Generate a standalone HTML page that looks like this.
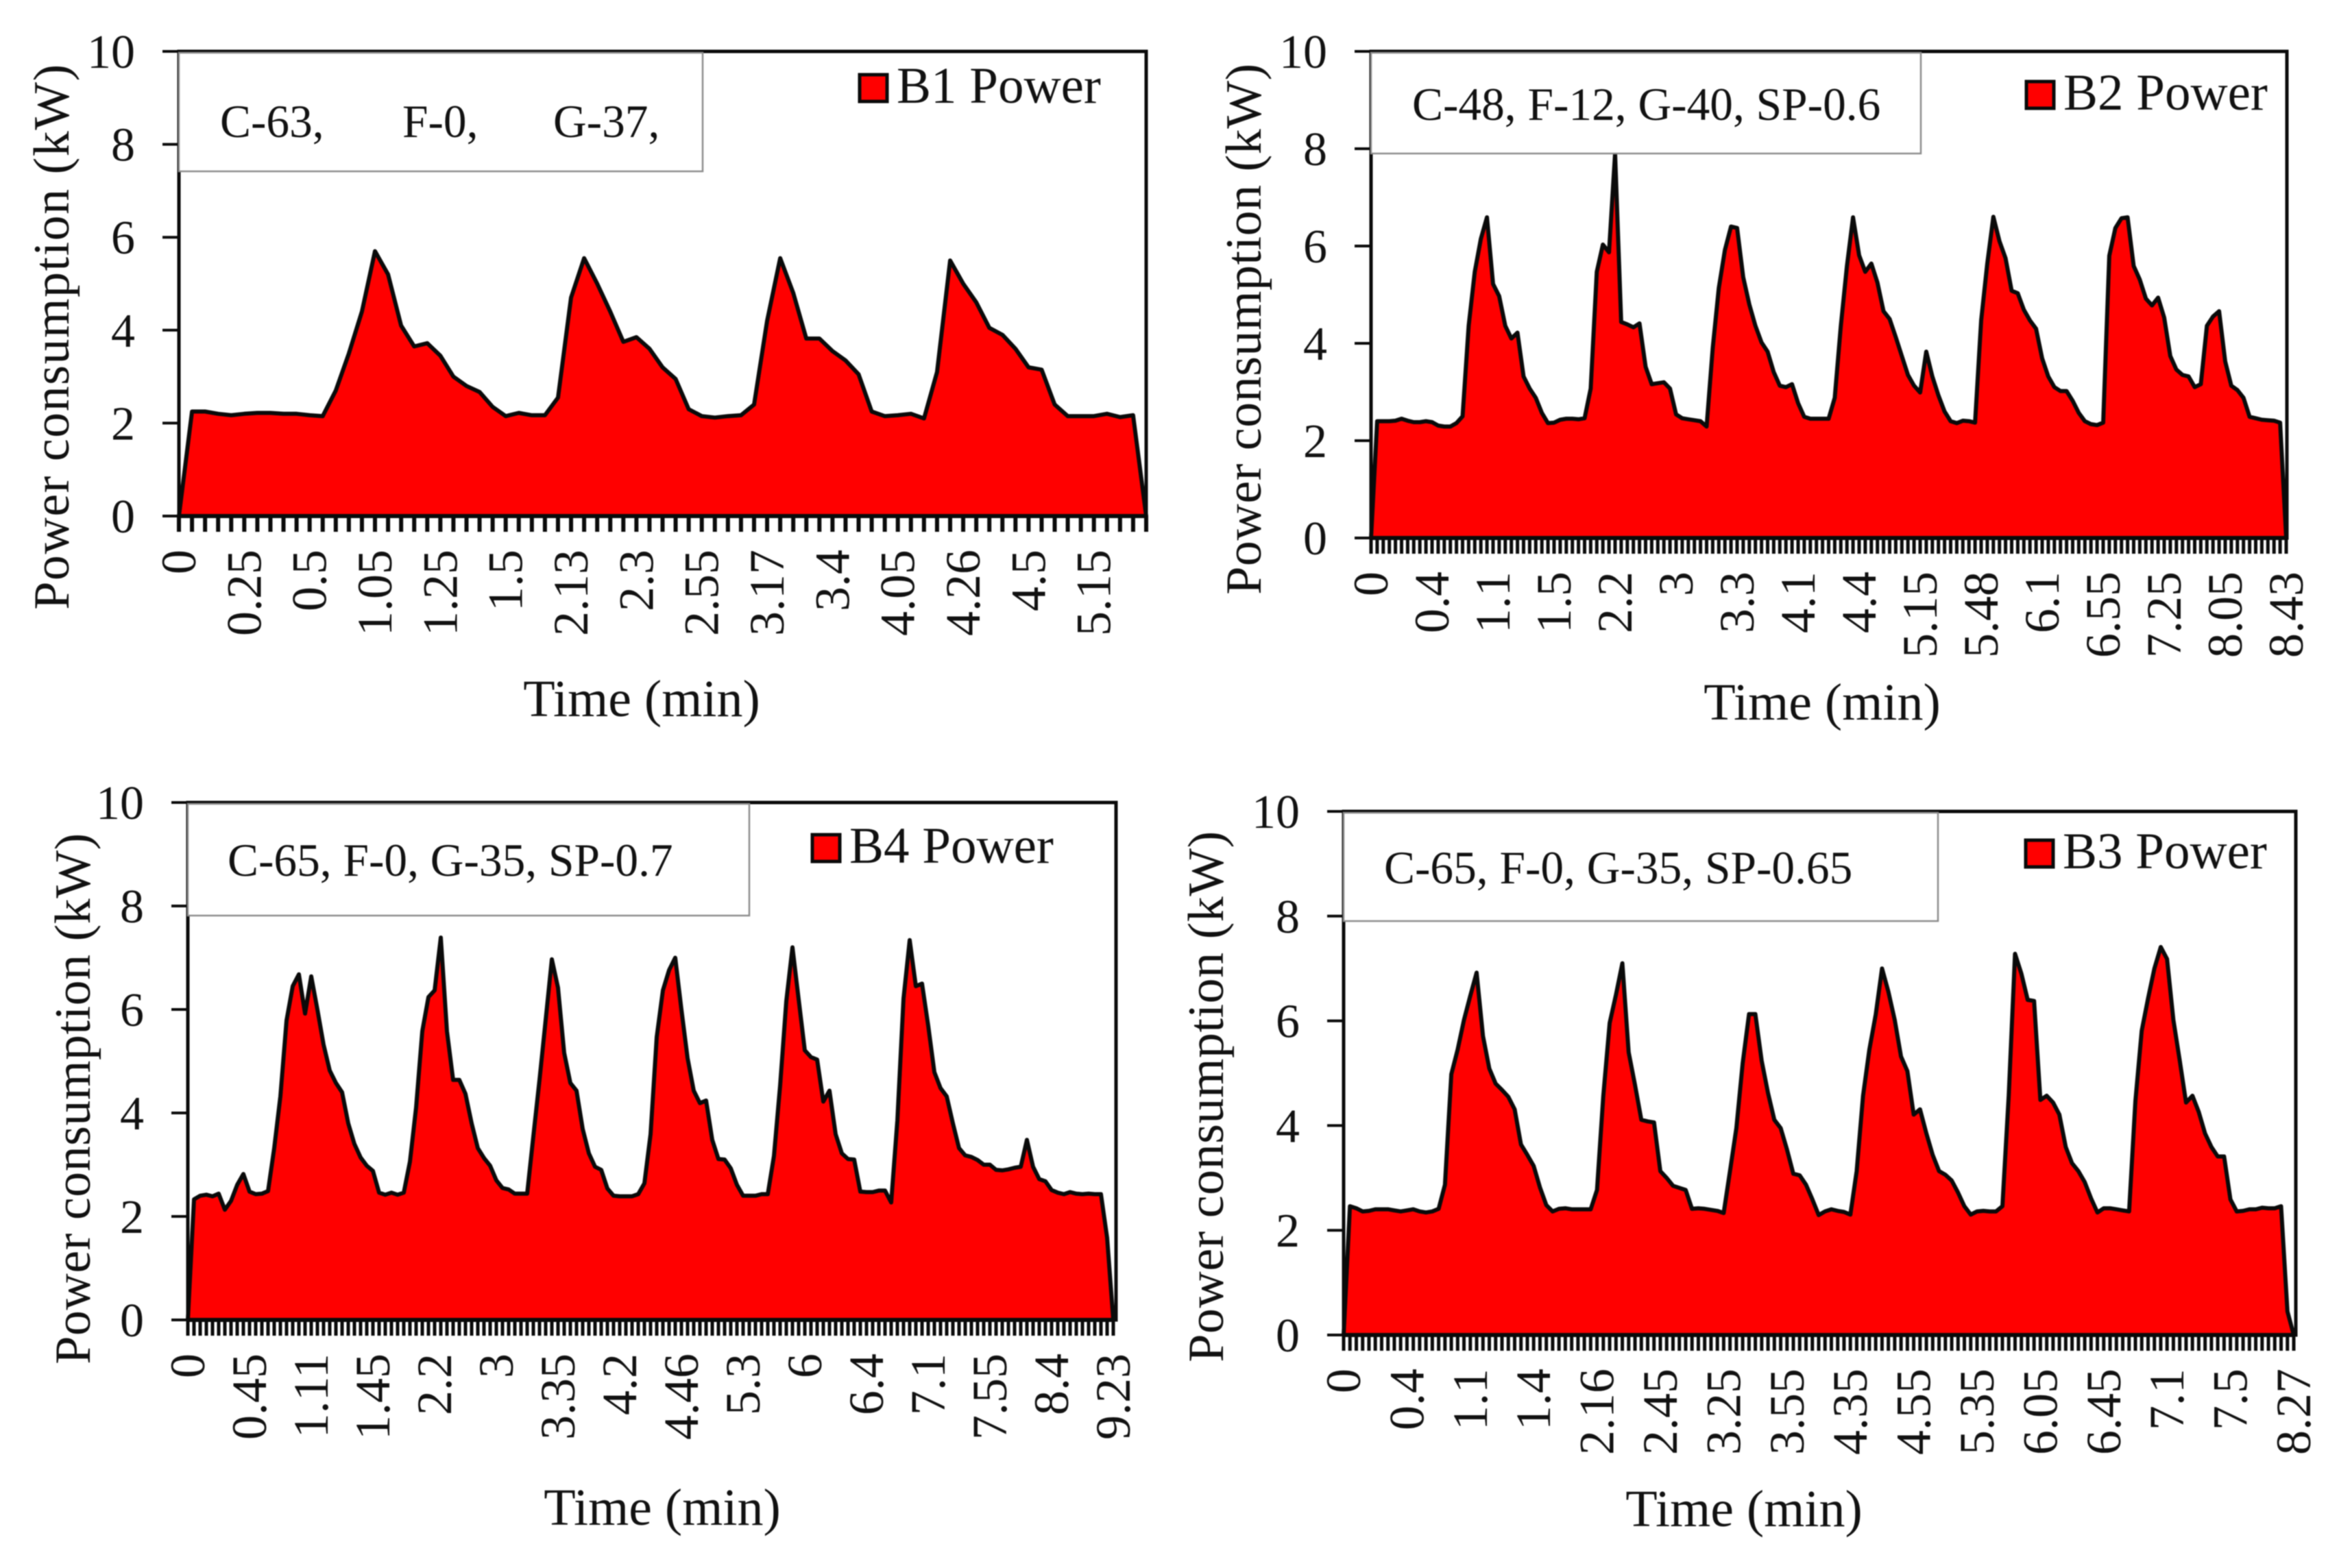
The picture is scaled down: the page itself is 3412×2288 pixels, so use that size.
<!DOCTYPE html>
<html lang="en">
<head>
<meta charset="utf-8">
<title>Power consumption B1-B4</title>
<style>
html,body{margin:0;padding:0;background:#fff;}
svg{display:block;filter:blur(0.9px);}
text{font-family:"Liberation Serif",serif;fill:#111;}
</style>
</head>
<body>
<svg id="figure" xmlns="http://www.w3.org/2000/svg" width="3412" height="2288" viewBox="0 0 3412 2288"></svg>
<script>
const yTicks = [0, 2, 4, 6, 8, 10];

const b1Labels = ["0","0.25","0.5","1.05","1.25","1.5","2.13","2.3","2.55","3.17","3.4","4.05","4.26","4.5","5.15"];
const b2Labels = ["0","0.4","1.1","1.5","2.2","3","3.3","4.1","4.4","5.15","5.48","6.1","6.55","7.25","8.05","8.43"];
const b4Labels = ["0","0.45","1.11","1.45","2.2","3","3.35","4.2","4.46","5.3","6","6.4","7.1","7.55","8.4","9.23"];
const b3Labels = ["0","0.4","1.1","1.4","2.16","2.45","3.25","3.55","4.35","4.55","5.35","6.05","6.45","7.1","7.5","8.27"];

const b1Values = [0,2.25,2.25,2.2,2.17,2.2,2.22,2.22,2.2,2.2,2.17,2.15,2.7,3.5,4.4,5.7,5.2,4.1,3.65,3.72,3.45,3.0,2.8,2.67,2.35,2.15,2.22,2.17,2.17,2.55,4.7,5.55,5.0,4.4,3.75,3.85,3.6,3.2,2.95,2.3,2.15,2.12,2.15,2.17,2.4,4.2,5.55,4.8,3.82,3.82,3.55,3.35,3.05,2.25,2.15,2.17,2.2,2.1,3.1,5.5,5.0,4.6,4.05,3.9,3.6,3.2,3.15,2.4,2.15,2.15,2.15,2.2,2.13,2.17,0];

const b2Values = [0,2.4,2.4,2.4,2.41,2.45,2.41,2.38,2.38,2.4,2.38,2.31,2.29,2.29,2.36,2.5,4.36,5.47,6.15,6.59,5.22,4.97,4.36,4.1,4.22,3.32,3.07,2.88,2.57,2.36,2.37,2.43,2.45,2.45,2.44,2.46,3.07,5.47,6.03,5.87,7.9,4.44,4.39,4.33,4.41,3.52,3.16,3.18,3.2,3.07,2.54,2.46,2.44,2.42,2.4,2.29,3.9,5.14,5.92,6.4,6.37,5.36,4.8,4.36,4.02,3.83,3.41,3.13,3.1,3.16,2.77,2.49,2.45,2.45,2.45,2.45,2.88,4.36,5.59,6.59,5.81,5.47,5.64,5.25,4.66,4.5,4.13,3.74,3.35,3.13,2.99,3.83,3.32,2.93,2.6,2.4,2.36,2.41,2.4,2.37,4.47,5.64,6.6,6.1,5.75,5.08,5.03,4.69,4.47,4.3,3.69,3.32,3.1,3.02,3.02,2.82,2.57,2.4,2.34,2.32,2.37,5.8,6.37,6.57,6.59,5.59,5.31,4.92,4.78,4.94,4.53,3.74,3.46,3.35,3.32,3.1,3.16,4.36,4.55,4.66,3.63,3.13,3.04,2.88,2.49,2.46,2.43,2.42,2.41,2.37,0];

const b4Values = [0,2.33,2.4,2.42,2.39,2.44,2.13,2.3,2.61,2.82,2.48,2.43,2.44,2.49,3.32,4.32,5.79,6.45,6.68,5.92,6.64,6.0,5.32,4.82,4.58,4.4,3.8,3.4,3.14,2.98,2.88,2.46,2.42,2.46,2.42,2.46,3.06,4.11,5.58,6.24,6.37,7.39,5.58,4.64,4.64,4.37,3.8,3.32,3.13,2.98,2.7,2.55,2.52,2.44,2.44,2.44,3.55,4.64,5.8,6.97,6.42,5.16,4.58,4.43,3.69,3.22,2.96,2.9,2.54,2.4,2.39,2.39,2.39,2.43,2.64,3.59,5.47,6.37,6.76,7.0,6.0,5.06,4.43,4.19,4.24,3.48,3.11,3.1,2.93,2.61,2.4,2.4,2.4,2.43,2.43,3.17,4.53,6.16,7.2,6.2,5.21,5.08,5.03,4.22,4.43,3.59,3.22,3.11,3.1,2.48,2.47,2.47,2.5,2.5,2.27,3.85,6.21,7.34,6.45,6.5,5.69,4.79,4.48,4.32,3.8,3.32,3.18,3.15,3.09,3.0,3.0,2.9,2.89,2.91,2.94,2.96,3.48,2.96,2.72,2.68,2.51,2.46,2.43,2.47,2.44,2.43,2.44,2.43,2.43,1.59,0];

const b3Values = [0,2.46,2.42,2.36,2.37,2.4,2.4,2.4,2.38,2.36,2.38,2.4,2.36,2.34,2.36,2.41,2.87,4.98,5.45,6.02,6.48,6.92,5.71,5.09,4.8,4.68,4.55,4.31,3.64,3.44,3.23,2.82,2.48,2.36,2.41,2.42,2.4,2.4,2.4,2.4,2.77,4.57,5.96,6.5,7.1,5.4,4.78,4.11,4.08,4.06,3.13,3.0,2.85,2.81,2.77,2.41,2.42,2.41,2.39,2.37,2.33,3.13,3.95,5.19,6.13,6.13,5.24,4.62,4.11,3.95,3.54,3.08,3.05,2.87,2.59,2.29,2.36,2.4,2.37,2.35,2.3,3.13,4.57,5.45,6.12,7.0,6.56,6.02,5.32,5.04,4.21,4.31,3.85,3.44,3.13,3.06,2.95,2.72,2.46,2.3,2.36,2.37,2.36,2.36,2.46,4.57,7.28,6.9,6.4,6.38,4.49,4.57,4.44,4.21,3.59,3.28,3.13,2.92,2.61,2.34,2.42,2.42,2.4,2.38,2.36,4.47,5.81,6.43,7.0,7.41,7.18,6.02,5.24,4.44,4.57,4.26,3.85,3.59,3.41,3.41,2.59,2.36,2.37,2.4,2.4,2.43,2.42,2.42,2.46,0.45,0];

const svg = document.getElementById('figure');
const NS = 'http://www.w3.org/2000/svg';

function make(parent, tag, attrs, content) {
  const el = document.createElementNS(NS, tag);
  for (const k in attrs) el.setAttribute(k, attrs[k]);
  if (content !== undefined) el.textContent = content;
  parent.appendChild(el);
  return el;
}

const BLACK = '#0a0a0a';

function drawPanel(p) {
  const g = make(svg, 'g', {});
  
  

  const n = p.values.length - 1;
  const xScale = i => p.x0 + (p.x1 - p.x0) * i / n;
  const yScale = v => p.y0 - (p.y0 - p.yTop) * v / 10;

  // Area series
  const pts = p.values.map((v, i) => xScale(i).toFixed(1) + ',' + yScale(v).toFixed(1)).join(' ');
  const area = make(g, 'polygon', {points: pts, fill: '#ff0000', stroke: BLACK, 'stroke-width': 6, 'stroke-linejoin': 'round'});
  
  

  // Frame
  const frame = make(g, 'rect', {x: p.x0, y: p.yTop, width: p.frameRight - p.x0, height: p.y0 - p.yTop, fill: 'none', stroke: BLACK, 'stroke-width': 5});
  
  

  // Y ticks and labels
  yTicks.forEach(t => {
    const tick = make(g, 'line', {x1: p.x0 - 24, x2: p.x0, y1: yScale(t), y2: yScale(t), stroke: BLACK, 'stroke-width': 4});
    
    
    const label = make(g, 'text', {x: p.x0 - 64, y: yScale(t) + 24, 'font-size': 70, 'text-anchor': 'end'}, String(t));
    
    
  });

  // X ticks
  const tickLen = 23;
  for (let i = 0; i <= n; i++) {
    const tick = make(g, 'line', {x1: xScale(i), x2: xScale(i), y1: p.y0, y2: p.y0 + tickLen, stroke: BLACK, 'stroke-width': p.tickWidth});
    
    
  }

  // X labels, one per labelStep categories
  p.labels.forEach((t, j) => {
    const x = xScale(j * p.labelStep) + 24;
    const y = p.y0 + 49;
    const label = make(g, 'text', {x: x, y: y, 'font-size': 72, 'text-anchor': 'end', transform: 'rotate(-90 ' + x + ' ' + y + ')'}, t);
    
    
  });

  // Annotation box
  const box = make(g, 'rect', {x: p.box[0], y: p.box[1], width: p.box[2], height: p.box[3], fill: '#fff', stroke: '#8c8c8c', 'stroke-width': 2.5});
  
  
  p.notes.forEach(note => {
    const txt = make(g, 'text', {x: note[0], y: p.noteY, 'font-size': 67.4}, note[1]);
    
    
  });

  // Legend
  const swatch = make(g, 'rect', {x: p.legend[0], y: p.legend[1], width: 40, height: 39, fill: '#ff0000', stroke: BLACK, 'stroke-width': 5});
  
  
  const legendText = make(g, 'text', {x: p.legend[0] + 54, y: p.legend[1] + 41, 'font-size': 75}, p.title + ' Power');
  
  

  // Axis titles
  const xt = make(g, 'text', {x: p.xTitle[0], y: p.xTitle[1], 'font-size': 76, 'text-anchor': 'middle'}, 'Time (min)');
  
  
  const yt = make(g, 'text', {x: p.yTitle[0], y: p.yTitle[1], 'font-size': 74, 'text-anchor': 'middle', 'letter-spacing': p.titleSpacing, transform: 'rotate(-90 ' + p.yTitle[0] + ' ' + p.yTitle[1] + ')'}, 'Power consumption (kW)');
  
  
}

drawPanel({key: 'b1', title: 'B1', values: b1Values, labels: b1Labels, labelStep: 5, tickWidth: 6,
  x0: 261, x1: 1672, frameRight: 1672, yTop: 75, y0: 753,
  box: [261, 77, 764, 173], noteY: 200, notes: [[321, 'C-63,'], [587, 'F-0,'], [807, 'G-37,']],
  legend: [1254, 109], xTitle: [936, 1045], yTitle: [100, 491], titleSpacing: 1.5});

drawPanel({key: 'b2', title: 'B2', values: b2Values, labels: b2Labels, labelStep: 10, tickWidth: 5,
  x0: 2000, x1: 3335, frameRight: 3336, yTop: 75, y0: 785,
  box: [2000, 77, 802, 147], noteY: 175, notes: [[2060, 'C-48, F-12, G-40, SP-0.6']],
  legend: [2956, 119], xTitle: [2658, 1050], yTitle: [1839, 480], titleSpacing: 0.5});

drawPanel({key: 'b4', title: 'B4', values: b4Values, labels: b4Labels, labelStep: 10, tickWidth: 5,
  x0: 274, x1: 1624, frameRight: 1628, yTop: 1171, y0: 1926,
  box: [274, 1173, 819, 163], noteY: 1278, notes: [[332, 'C-65, F-0, G-35, SP-0.7']],
  legend: [1185, 1218], xTitle: [966, 2225], yTitle: [131, 1603], titleSpacing: 0.5});

drawPanel({key: 'b3', title: 'B3', values: b3Values, labels: b3Labels, labelStep: 10, tickWidth: 5,
  x0: 1960, x1: 3346, frameRight: 3349, yTop: 1184, y0: 1948,
  box: [1960, 1186, 867, 158], noteY: 1289, notes: [[2019, 'C-65, F-0, G-35, SP-0.65']],
  legend: [2955, 1226], xTitle: [2544, 2227], yTitle: [1784, 1600], titleSpacing: 0.5});
</script>
</body>
</html>
